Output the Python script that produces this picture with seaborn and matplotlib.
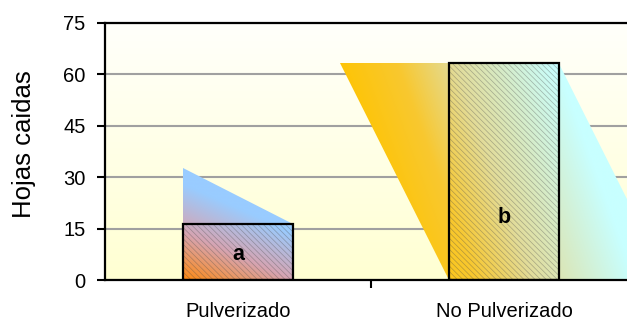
import numpy as np
import pandas as pd
import matplotlib
matplotlib.use("Agg")
import matplotlib.pyplot as plt
import seaborn as sns
from matplotlib.colors import LinearSegmentedColormap
from matplotlib.patches import Polygon, Rectangle

# Data
categories = ["Pulverizado", "No Pulverizado"]
hojas = [16.3, 63.4]
letters = ["a", "b"]
letter_y = [7.3, 18.1]
yticks = [0, 15, 30, 45, 60, 75]

sns.set_theme(style="ticks")
plt.rcParams["font.family"] = ["Liberation Sans", "DejaVu Sans"]
plt.rcParams["hatch.linewidth"] = 0.5
plt.rcParams["text.color"] = "black"
plt.rcParams["xtick.color"] = "black"
plt.rcParams["ytick.color"] = "black"
plt.rcParams["axes.labelcolor"] = "black"

fig = plt.figure(figsize=(6.27, 3.23), dpi=100)
ax = fig.add_axes([0.1675, 0.1331, 0.8485, 0.7957])

df = pd.DataFrame({"tratamiento": categories, "hojas": hojas})
sns.barplot(data=df, x="tratamiento", y="hojas", width=0.41, color="white",
            ax=ax, zorder=4)

# Pale yellow background gradient
bg = np.linspace(0, 1, 256)[:, None]
bg_cmap = LinearSegmentedColormap.from_list("bg", ["#ffffd2", "#fffffb"])
ax.imshow(bg_cmap(bg), extent=(0, 1, 0, 1), transform=ax.transAxes,
          origin="lower", aspect="auto", zorder=0, interpolation="bilinear")

# Gradient styles for each group: colours and direction of the ramp
group_cmaps = [
    LinearSegmentedColormap.from_list("g0", ["#ff8a10", "#d6a4b2", "#99ccff"]),
    LinearSegmentedColormap.from_list(
        "g1", [(0, "#ffc400"), (0.3, "#f8c830"), (0.55, "#e2dc9a"),
               (1, "#c8ffff")]),
]
ramp = [dict(sx=0.82, sy=28.0, c=0.0), dict(sx=0.85, sy=182.0, c=-0.3)]


def gradient_fill(poly_xy, cmap, x_start, sx, sy, c, z):
    poly = Polygon(poly_xy, closed=True, transform=ax.transData)
    xs = [p[0] for p in poly_xy]
    ys = [p[1] for p in poly_xy]
    xa, xb, ya, yb = min(xs), max(xs), min(ys), max(ys)
    gx, gy = np.meshgrid(np.linspace(xa, xb, 200), np.linspace(ya, yb, 200))
    t = np.clip((gx - x_start) / sx + gy / sy + c, 0, 1)
    im = ax.imshow(cmap(t), extent=(xa, xb, ya, yb), origin="lower",
                   aspect="auto", zorder=z, interpolation="bilinear")
    im.set_clip_path(poly)


bars = list(ax.patches)
for i, p in enumerate(bars):
    x0, w, h = p.get_x(), p.get_width(), p.get_height()
    x1 = x0 + w
    cmap, r = group_cmaps[i], ramp[i]
    if i == 0:
        x_start = x0
        shapes = [[(x0, 2 * h), (x0, h), (x1, h)]]
    else:
        x_start = x0 - w
        shapes = [[(x0 - w, h), (x0, h), (x0, 0)],
                  [(x1, h), (x1 + w, 0), (x1, 0)]]
    for s in shapes:
        gradient_fill(s, cmap, x_start, r["sx"], r["sy"], r["c"], 1.5)
    gradient_fill([(x0, 0), (x1, 0), (x1, h), (x0, h)], cmap, x_start,
                  r["sx"], r["sy"], r["c"], 2)
    ax.add_patch(Rectangle((x0, 0), w, h, facecolor="none",
                           edgecolor=(0.3, 0.3, 0.3, 0.4), linewidth=0,
                           hatch="\\" * 6, zorder=3))
    p.set_facecolor("none")
    p.set_edgecolor("black")
    p.set_linewidth(1.6)
    ax.text(i, letter_y[i], letters[i], ha="center", va="center",
            fontsize=15.5, fontweight="bold", color="black", zorder=6)

ax.set_xlim(-0.5, 1.5)
ax.set_ylim(0, 75)
ax.set_yticks(yticks)
ax.yaxis.grid(True, color="#a0a0a0", linewidth=1.5)
ax.set_axisbelow(True)
for g in ax.get_ygridlines():
    g.set_zorder(0.5)

for side in ["left", "bottom", "top"]:
    ax.spines[side].set_visible(True)
    ax.spines[side].set_color("black")
    ax.spines[side].set_linewidth(1.6)
    ax.spines[side].set_zorder(5)
ax.spines["right"].set_visible(False)

ax.tick_params(axis="y", direction="out", length=6, width=1.5,
               labelsize=14.5, pad=8, colors="black")
ax.set_xticks([0, 1])
ax.set_xticklabels(categories)
ax.set_xticks([0.5], minor=True)
ax.tick_params(axis="x", which="major", length=0, labelsize=14.5, pad=16,
               colors="black")
ax.tick_params(axis="x", which="minor", bottom=True, direction="out",
               length=6, width=1.5, color="black")

ax.set_xlabel("")
ax.set_ylabel("Hojas caidas", fontsize=18.5, color="black")
ax.yaxis.set_label_coords(-0.13, 0.53)

fig.savefig("out.png", dpi=100)
